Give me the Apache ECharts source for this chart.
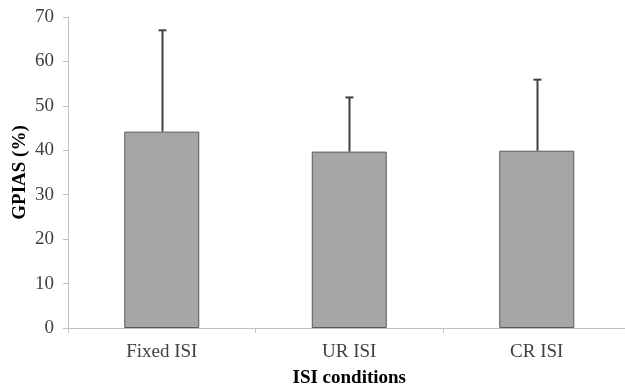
<!DOCTYPE html>
<html><head><meta charset="utf-8">
<script src="https://cdn.jsdelivr.net/npm/echarts@6/dist/echarts.min.js"></script>
<style>html,body{margin:0;padding:0;background:#fff}#c{width:625px;height:388px}</style>
</head><body><div id="c"></div>
<script>
const categories = ["Fixed ISI", "UR ISI", "CR ISI"];
const means = [44.2, 39.7, 39.9];
const errorTops = [67.0, 51.9, 55.9];
const yTicks = [0, 10, 20, 30, 40, 50, 60, 70];

const chart = echarts.init(document.getElementById('c'));
const font = "'Liberation Serif', 'Times New Roman', serif";
chart.setOption({
  animation: false,
  grid: { left: 68, top: 17, bottom: 60, width: 562.5, containLabel: false, outerBoundsMode: 'none' },
  xAxis: {
    type: 'category', data: categories,
    name: 'ISI conditions', nameLocation: 'middle', nameGap: 41, nameMoveOverlap: false,
    nameTextStyle: { fontFamily: font, fontSize: 19, fontWeight: 'bold', color: '#000' },
    axisLine: { lineStyle: { color: '#bfbfbf', width: 1 } },
    axisTick: { show: true, length: 5, lineStyle: { color: '#bfbfbf' } },
    axisLabel: { fontFamily: font, fontSize: 19, color: '#404040', margin: 15 }
  },
  yAxis: {
    type: 'value', min: yTicks[0], max: yTicks[yTicks.length - 1], interval: 10,
    name: 'GPIAS (%)', nameLocation: 'middle', nameGap: 38, nameMoveOverlap: false,
    nameTextStyle: { fontFamily: font, fontSize: 19, fontWeight: 'bold', color: '#000' },
    axisLine: { show: true, lineStyle: { color: '#bfbfbf', width: 1 } },
    axisTick: { show: true, length: 5, lineStyle: { color: '#bfbfbf' } },
    splitLine: { show: false },
    axisLabel: { fontFamily: font, fontSize: 19, color: '#404040', margin: 14 }
  },
  series: [
    {
      type: 'bar', data: means, barWidth: '40%',
      itemStyle: { color: '#a6a6a6', borderColor: '#5a5a5a', borderWidth: 1 }
    },
    {
      type: 'custom',
      data: categories.map((c, i) => [i, means[i], errorTops[i]]),
      renderItem: function (params, api) {
        const base = api.coord([api.value(0), api.value(1)]);
        const top = api.coord([api.value(0), api.value(2)]);
        const x = Math.round(base[0]) + 0.5;
        const hw = 4;
        return {
          type: 'group',
          children: [
            { type: 'line', shape: { x1: x, y1: base[1], x2: x, y2: top[1] }, style: { stroke: '#404040', lineWidth: 2 } },
            { type: 'line', shape: { x1: x - hw, y1: top[1], x2: x + hw, y2: top[1] }, style: { stroke: '#404040', lineWidth: 2 } }
          ]
        };
      },
      z: 3
    }
  ]
});
</script>
</body></html>
